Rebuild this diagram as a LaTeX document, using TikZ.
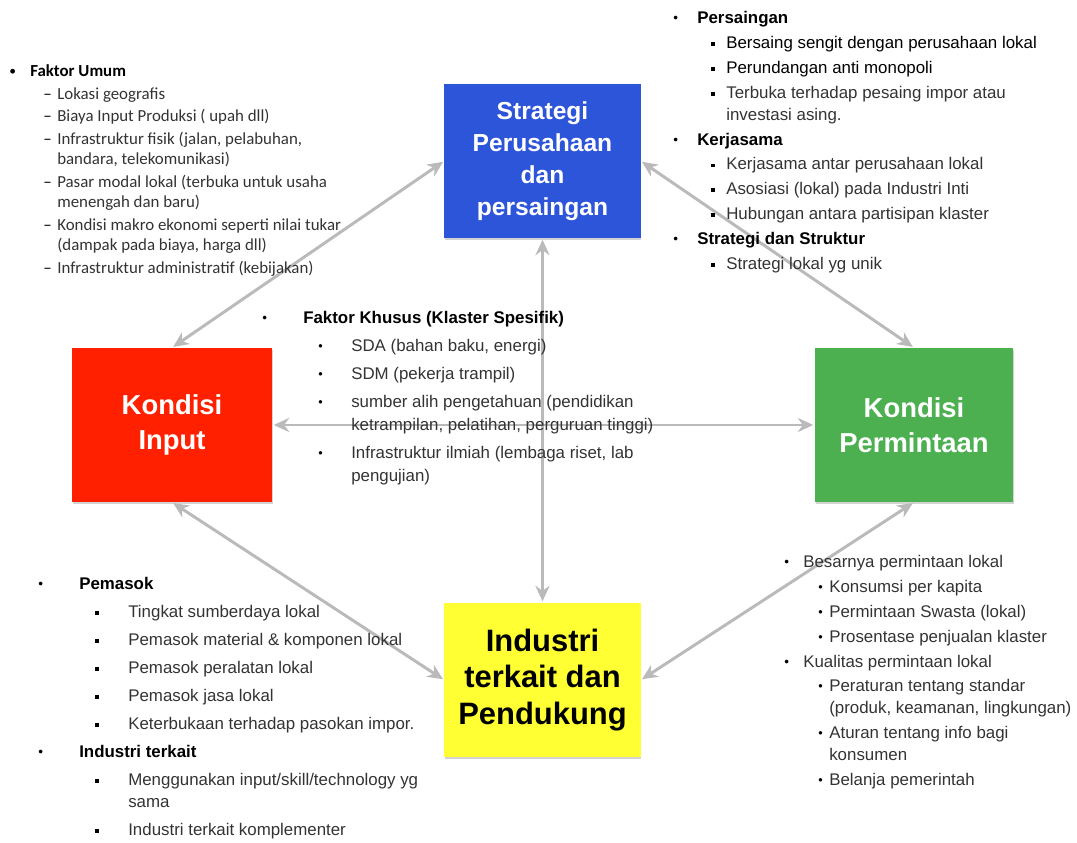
\documentclass[tikz,border=0pt]{standalone}
\usepackage{fontspec}
\setmainfont{Liberation Sans}
\newfontfamily\calibri{Carlito}
\usetikzlibrary{arrows.meta,shadows}

\definecolor{stratblue}{RGB}{45,85,218}
\definecolor{inputred}{RGB}{255,32,0}
\definecolor{demandgreen}{RGB}{76,176,80}
\definecolor{industryellow}{RGB}{255,255,51}

% list levels: bullet box, sub indent, sub marker box
\newlength\la \newlength\lb \newlength\lc
\newcommand{\sqmark}{\raisebox{0.3ex}{\rule{0.22em}{0.22em}}}
\newcommand{\dotmark}{\raisebox{0.12ex}{\scalebox{0.75}{\textbullet}}}
\newcommand{\lone}[1]{\makebox[\la][l]{\color{black}\raisebox{0.1ex}{\scalebox{0.8}{\textbullet}}}#1}
\newcommand{\ltwo}[2][\sqmark]{\hspace*{\lb}\makebox[\lc][l]{\color{black}#1}#2}
\newcommand{\lcont}[1]{\hspace*{\lb}\hspace*{\lc}#1}
\newcommand{\hd}[1]{\textcolor{black}{\textbf{#1}}}

\begin{document}
\begin{tikzpicture}[x=0.025cm, y=-0.025cm,
    factor/.style={minimum width=4.9cm, minimum height=3.85cm, inner sep=2pt, align=center, text=white,
        drop shadow={shadow xshift=0.6pt, shadow yshift=-1.2pt, opacity=0.35}},
    link/.style={{Stealth[length=11pt,width=10pt]}-{Stealth[length=11pt,width=10pt]}, line width=2.1pt, draw=black!27,
        shorten <=1pt, shorten >=1pt},
    listtext/.style={anchor=north west, inner sep=0pt, align=left, text=black!80, font=\fontsize{12}{15.6}\selectfont},
    indents/.style n args={3}{execute at begin node={\setlength\la{#1}\setlength\lb{#2}\setlength\lc{#3}}}
  ]
  \path[use as bounding box] (0,0) rectangle (1077,842);

  % four factors
  \node[factor, fill=stratblue, font=\bfseries\fontsize{17.5}{22.7}\selectfont] (strategi) at (542.5,161)
    {Strategi\\Perusahaan\\dan\\persaingan};
  \node[factor, fill=inputred, minimum width=5cm, font=\bfseries\fontsize{19.5}{24.8}\selectfont] (input) at (172,425)
    {Kondisi\\Input};
  \node[factor, fill=demandgreen, minimum width=4.95cm, font=\bfseries\fontsize{19.5}{24.8}\selectfont] (permintaan) at (914,425)
    {Kondisi\\Permintaan};
  \node[factor, fill=industryellow, text=black, font=\bfseries\fontsize{22}{26}\selectfont] (industri) at (542.5,680)
    {Industri\\terkait dan\\Pendukung};

  \draw[link] (strategi.west) -- (input.north);
  \draw[link] (strategi.east) -- (permintaan.north);
  \draw[link] (input.south) -- (industri.west);
  \draw[link] (permintaan.south) -- (industri.east);
  \draw[link] (strategi.south) -- (industri.north);
  \draw[link] (input.east) -- (permintaan.west);

  % lists
  \node[listtext, font=\calibri\fontsize{12}{14.2}\selectfont, indents={0.525cm}{0.85cm}{0.35cm}] (umum) at (9,64) {%
    \lone{\hd{Faktor Umum}}\\[2.1pt]
    \ltwo[\textendash]{Lokasi geografis}\\[2.1pt]
    \ltwo[\textendash]{Biaya Input Produksi ( upah dll)}\\[2.1pt]
    \ltwo[\textendash]{Infrastruktur fisik (jalan, pelabuhan,}\\
    \lcont{bandara, telekomunikasi)}\\[2.1pt]
    \ltwo[\textendash]{Pasar modal lokal (terbuka untuk usaha}\\
    \lcont{menengah dan baru)}\\[2.1pt]
    \ltwo[\textendash]{Kondisi makro ekonomi seperti nilai tukar}\\
    \lcont{(dampak pada biaya, harga dll)}\\[2.1pt]
    \ltwo[\textendash]{Infrastruktur administratif (kebijakan)}};

  \node[listtext, indents={0.6cm}{0.95cm}{0.375cm}] (persaingan) at (673,11) {%
    \lone{\hd{Persaingan}}\\[2.1pt]
    \ltwo{\textcolor{black}{Bersaing sengit dengan perusahaan lokal}}\\[2.1pt]
    \ltwo{\textcolor{black}{Perundangan anti monopoli}}\\[2.1pt]
    \ltwo{Terbuka terhadap pesaing impor atau}\\
    \lcont{investasi asing.}\\[2.1pt]
    \lone{\hd{Kerjasama}}\\[2.1pt]
    \ltwo{Kerjasama antar perusahaan lokal}\\[2.1pt]
    \ltwo{Asosiasi (lokal) pada Industri Inti}\\[2.1pt]
    \ltwo{Hubungan antara partisipan klaster}\\[2.1pt]
    \lone{\hd{Strategi dan Struktur}}\\[2.1pt]
    \ltwo{Strategi lokal yg unik}};

  \node[listtext, font=\fontsize{12}{16.3}\selectfont, indents={1.025cm}{1.4cm}{0.825cm}] (khusus) at (262,311) {%
    \lone{\hd{Faktor Khusus (Klaster Spesifik)}}\\[3.6pt]
    \ltwo[\dotmark]{SDA (bahan baku, energi)}\\[3.6pt]
    \ltwo[\dotmark]{SDM (pekerja trampil)}\\[3.6pt]
    \ltwo[\dotmark]{sumber alih pengetahuan (pendidikan}\\
    \lcont{ketrampilan, pelatihan, perguruan tinggi)}\\[3.6pt]
    \ltwo[\dotmark]{Infrastruktur ilmiah (lembaga riset, lab}\\
    \lcont{pengujian)}};

  \node[listtext, indents={1.025cm}{1.425cm}{0.825cm}] (pemasok) at (38,577) {%
    \lone{\hd{Pemasok}}\\[4.3pt]
    \ltwo{Tingkat sumberdaya lokal}\\[4.3pt]
    \ltwo{Pemasok material \& komponen lokal}\\[4.3pt]
    \ltwo{Pemasok peralatan lokal}\\[4.3pt]
    \ltwo{Pemasok jasa lokal}\\[4.3pt]
    \ltwo{Keterbukaan terhadap pasokan impor.}\\[4.3pt]
    \lone{\hd{Industri terkait}}\\[4.3pt]
    \ltwo{Menggunakan input/skill/technology yg}\\
    \lcont{sama}\\[4.3pt]
    \ltwo{Industri terkait komplementer}};

  \node[listtext, indents={0.475cm}{0.85cm}{0.275cm}] (besarnya) at (784,555) {%
    \lone{Besarnya permintaan lokal}\\[2.1pt]
    \ltwo[\dotmark]{Konsumsi per kapita}\\[2.1pt]
    \ltwo[\dotmark]{Permintaan Swasta (lokal)}\\[2.1pt]
    \ltwo[\dotmark]{Prosentase penjualan klaster}\\[2.1pt]
    \lone{Kualitas permintaan lokal}\\[2.1pt]
    \ltwo[\dotmark]{Peraturan tentang standar}\\
    \lcont{(produk, keamanan, lingkungan)}\\[2.1pt]
    \ltwo[\dotmark]{Aturan tentang info bagi}\\
    \lcont{konsumen}\\[2.1pt]
    \ltwo[\dotmark]{Belanja pemerintah}};
\end{tikzpicture}
\end{document}
